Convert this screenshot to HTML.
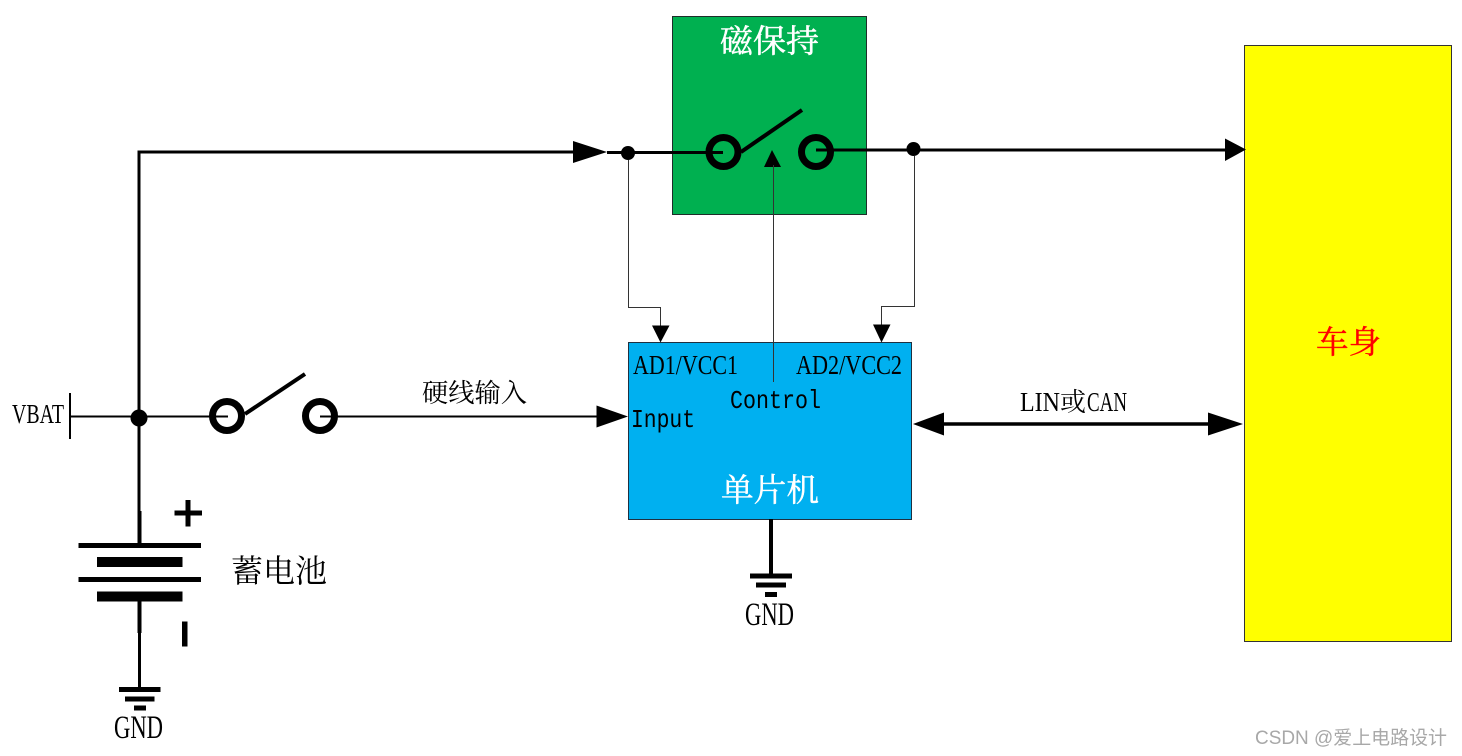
<!DOCTYPE html>
<html><head><meta charset="utf-8"><style>
html,body{margin:0;padding:0;background:#fff}
svg{display:block}
text{font-family:"Liberation Serif","Noto Serif CJK SC",serif;fill:#000}
.c{font-family:"Noto Serif CJK SC","Liberation Serif",serif}
.m{font-family:"Liberation Mono",monospace}
</style></head><body>
<svg width="1462" height="756" viewBox="0 0 1462 756" xmlns="http://www.w3.org/2000/svg">
<rect width="1462" height="756" fill="#fff"/>
<rect x="672.5" y="16.5" width="194" height="198" fill="#00b050" stroke="#1f2d2a" stroke-width="1"/>
<rect x="628.5" y="342.5" width="283" height="177" fill="#00b0f0" stroke="#1f3040" stroke-width="1"/>
<rect x="1244.5" y="45.5" width="207" height="596" fill="#ff0" stroke="#333" stroke-width="1"/>

<!-- top line -->
<path d="M137.500 152H590" fill="none" stroke="#000" stroke-width="3"/>
<path d="M139 151V512" fill="none" stroke="#000" stroke-width="3"/>
<path d="M573 141L607 152L573 163Z" fill="#000"/>
<path d="M607 152.500H723" stroke="#000" stroke-width="3" fill="none"/>
<circle cx="628" cy="153" r="7" fill="#000"/>
<path d="M816 150H1230" stroke="#000" stroke-width="3" fill="none"/>
<circle cx="913.500" cy="149" r="7" fill="#000"/>
<path d="M1225 138.500L1246 149.500L1225 161Z" fill="#000"/>

<!-- latching switch -->
<circle cx="723.500" cy="152" r="14.500" fill="none" stroke="#000" stroke-width="7"/>
<circle cx="816" cy="152" r="14.500" fill="none" stroke="#000" stroke-width="7"/>
<path d="M741 152L802 110" stroke="#000" stroke-width="4" fill="none"/>
<path d="M772 150L764 167H781Z" fill="#000"/>

<!-- thin wires -->
<path d="M628.500 160V307.500H660.500V326" fill="none" stroke="#333" stroke-width="1"/>
<path d="M914.500 156V306.500H881.500V325" fill="none" stroke="#333" stroke-width="1"/>
<path d="M773.500 165V382" fill="none" stroke="#333" stroke-width="1"/>
<path d="M652 325.500H669.500L660.500 342.500Z" fill="#000"/>
<path d="M873 324.500H890.500L881.500 342.500Z" fill="#000"/>

<!-- VBAT line -->
<path d="M70 393V439" stroke="#000" stroke-width="2" fill="none"/>
<path d="M70 416.500H228M320 416.500H600" stroke="#000" stroke-width="2" fill="none"/>
<circle cx="139" cy="418" r="8.500" fill="#000"/>
<circle cx="227" cy="416" r="14.500" fill="none" stroke="#000" stroke-width="7"/>
<circle cx="320" cy="416" r="14.500" fill="none" stroke="#000" stroke-width="7"/>
<path d="M245 414L305 374" stroke="#000" stroke-width="4" fill="none"/>
<path d="M596.500 405.500L628 416.500L596.500 427.500Z" fill="#000"/>

<!-- battery -->
<path d="M139.500 511V544" stroke="#000" stroke-width="4" fill="none"/>
<rect x="78.500" y="543" width="122.500" height="5" fill="#000"/>
<rect x="97" y="557" width="85.500" height="10" fill="#000"/>
<rect x="78.500" y="577" width="122.500" height="5" fill="#000"/>
<rect x="97" y="591.500" width="85.500" height="10" fill="#000"/>
<path d="M139.500 601V633" stroke="#000" stroke-width="4" fill="none"/>
<path d="M139.500 632V690" stroke="#000" stroke-width="3" fill="none"/>
<path d="M188 500V526.500M174.500 513H202" stroke="#000" stroke-width="5" fill="none"/>
<rect x="182" y="621.500" width="5.500" height="25" fill="#000"/>
<rect x="119" y="687" width="41.500" height="5" fill="#000"/>
<rect x="125" y="696.500" width="29.500" height="5" fill="#000"/>
<rect x="134" y="705.500" width="12" height="5" fill="#000"/>

<!-- MCU ground -->
<path d="M771 519V575" stroke="#000" stroke-width="4" fill="none"/>
<rect x="750" y="573.500" width="42" height="5" fill="#000"/>
<rect x="756" y="582.500" width="30" height="5" fill="#000"/>
<rect x="765" y="592" width="12" height="5" fill="#000"/>

<!-- bidirectional -->
<path d="M930 424H1215" stroke="#000" stroke-width="3.500" fill="none"/>
<path d="M944 412.500L913 424L944 435.500Z" fill="#000"/>
<path d="M1208 412.500L1243 424L1208 435.500Z" fill="#000"/>

<!-- labels -->
<text class="c" x="720" y="52" font-size="32" textLength="99" lengthAdjust="spacingAndGlyphs" style="fill:#fff;stroke:#fff;stroke-width:.5">磁保持</text>
<text class="c" x="721" y="501" font-size="32" textLength="98" lengthAdjust="spacingAndGlyphs" style="fill:#fff;stroke:#fff;stroke-width:.4">单片机</text>
<text class="c" x="1316" y="353" font-size="32" textLength="65" lengthAdjust="spacingAndGlyphs" style="fill:#f00;stroke:#f00;stroke-width:.4">车身</text>
<text class="c" x="231" y="582" font-size="32" textLength="96" lengthAdjust="spacingAndGlyphs">蓄电池</text>
<text class="c" x="422" y="402" font-size="26" textLength="105" lengthAdjust="spacingAndGlyphs">硬线输入</text>
<text x="12" y="423" font-size="27" textLength="52" lengthAdjust="spacingAndGlyphs">VBAT</text>
<text x="114" y="738" font-size="33" textLength="49" lengthAdjust="spacingAndGlyphs">GND</text>
<text x="745" y="625" font-size="33" textLength="49" lengthAdjust="spacingAndGlyphs">GND</text>
<text x="633" y="374" font-size="27" textLength="105" lengthAdjust="spacingAndGlyphs">AD1/VCC1</text>
<text x="796" y="374" font-size="27" textLength="106" lengthAdjust="spacingAndGlyphs">AD2/VCC2</text>
<text class="m" x="730" y="408" font-size="26" textLength="91" lengthAdjust="spacingAndGlyphs">Control</text>
<text class="m" x="631" y="427" font-size="26" textLength="64" lengthAdjust="spacingAndGlyphs">Input</text>
<text x="1020" y="411" font-size="27" textLength="40" lengthAdjust="spacingAndGlyphs">LIN</text>
<text class="c" x="1060" y="411" font-size="26" textLength="26" lengthAdjust="spacingAndGlyphs">或</text>
<text x="1087" y="411" font-size="27" textLength="40" lengthAdjust="spacingAndGlyphs">CAN</text>
<text x="1255" y="744" font-size="19" style='font-family:"Liberation Sans","Noto Sans CJK SC",sans-serif;fill:#a8a8a8' textLength="192" lengthAdjust="spacingAndGlyphs">CSDN @爱上电路设计</text>
</svg>
</body></html>
